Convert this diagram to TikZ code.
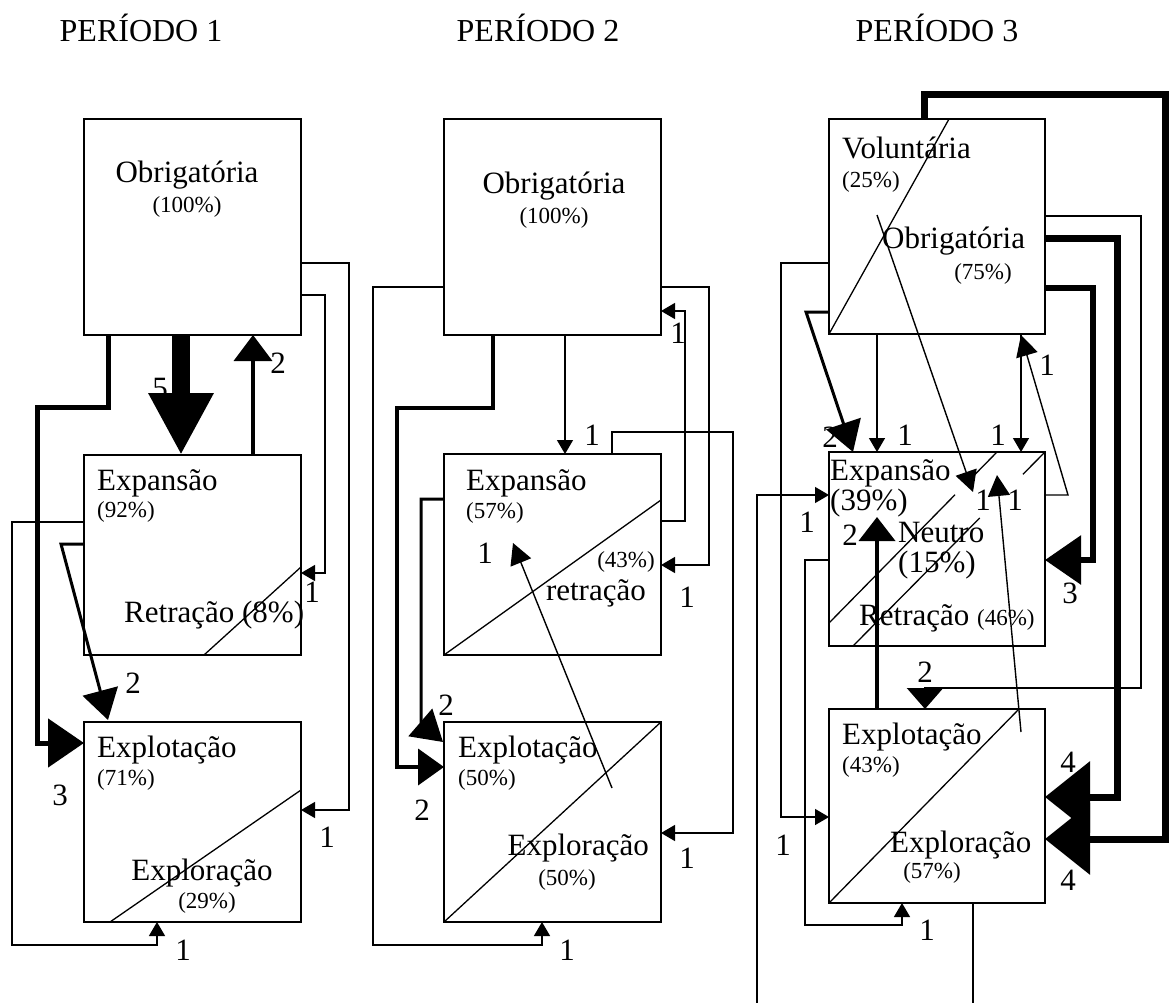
\documentclass[tikz,border=0pt]{standalone}
\usepackage{fontspec}
\setmainfont{Liberation Serif}
\usetikzlibrary{arrows.meta,calc}
\begin{document}
\begin{tikzpicture}[x=1pt,y=-1pt,
  box/.style={draw,line width=1.3pt,anchor=north west,inner sep=0,outer sep=0},
  big/.style={font=\fontsize{31}{34}\selectfont,inner sep=0},
  ttl/.style={font=\fontsize{32}{35}\selectfont,inner sep=0},
  sml/.style={font=\fontsize{23}{26}\selectfont,inner sep=0},
  cnt/.style={font=\fontsize{31}{34}\selectfont,inner sep=0},
  link/.style={line width=1.4pt},
  split/.style={line width=1.3pt},
  tipS/.style={-{Triangle[width=16pt,length=14pt]}},
  tipM/.style={-{Triangle[width=22pt,length=21pt]}},
  tipW/.style={-{Triangle[width=36pt,length=30pt]}},
  tipL/.style={-{Triangle[width=48pt,length=36pt]}},
  tipXL/.style={-{Triangle[width=70pt,length=45pt]}}
]
\useasboundingbox (0,0) rectangle (1172,1003);

% ---------- titles ----------
\node[ttl] (t1) at (141,28) {PERÍODO 1};
\node[ttl] (t2) at (538,28) {PERÍODO 2};
\node[ttl] (t3) at (937,28) {PERÍODO 3};

% ---------- boxes ----------
\node[box,minimum width=217pt,minimum height=216pt] (o1) at (84,119) {};
\node[box,minimum width=217pt,minimum height=200pt] (e1) at (84,455) {};
\node[box,minimum width=217pt,minimum height=200pt] (x1) at (84,722) {};

\node[box,minimum width=217pt,minimum height=216pt] (o2) at (444,119) {};
\node[box,minimum width=217pt,minimum height=201pt] (e2) at (444,454) {};
\node[box,minimum width=217pt,minimum height=200pt] (x2) at (444,722) {};

\node[box,minimum width=216pt,minimum height=215pt] (o3) at (829,119) {};
\node[box,minimum width=216pt,minimum height=194pt] (e3) at (829,452) {};
\node[box,minimum width=216pt,minimum height=194pt] (x3) at (829,709) {};

% ---------- dividing lines inside boxes ----------
\draw[split] ($(e1.south west)+(120,0)$) -- ($(e1.north east)+(0,112)$);
\draw[split] ($(x1.south west)+(26,0)$) -- ($(x1.north east)+(0,68)$);
\draw[split] (e2.south west) -- ($(e2.north east)+(0,46)$);
\draw[split] (x2.south west) -- (x2.north east);
\draw[split] (o3.south west) -- ($(o3.north west)+(120,0)$);
\coordinate (d1a) at ($(e3.south west)+(0,-23)$);
\coordinate (d1b) at ($(e3.north west)+(168,0)$);
\coordinate (d2a) at ($(e3.south west)+(24,0)$);
\coordinate (d2b) at (e3.north east);
\draw[split] (d1a) -- ($(d1a)!0.75!(d1b)$) ($(d1a)!0.87!(d1b)$) -- (d1b);
\draw[split] (d2a) -- ($(d2a)!0.66!(d2b)$) ($(d2a)!0.885!(d2b)$) -- (d2b);
\draw[split] (x3.south west) -- ($(x3.north west)+(190,0)$);

% ---------- box texts, period 1 ----------
\node[big] (o1t) at (187,175) {Obrigatória};
\node[sml] (o1p) at (187,207) {(100\%)};
\node[big,anchor=west] (e1t) at (97,483) {Expansão};
\node[sml,anchor=west] (e1p) at (97,512) {(92\%)};
\node[big,anchor=west] (e1r) at (124,615) {Retração (8\%)};
\node[big,anchor=west] (x1t) at (97,750) {Explotação};
\node[sml,anchor=west] (x1p) at (97,780) {(71\%)};
\node[big] (x1r) at (202,873) {Exploração};
\node[sml] (x1q) at (207,903) {(29\%)};

% ---------- box texts, period 2 ----------
\node[big] (o2t) at (554,186) {Obrigatória};
\node[sml] (o2p) at (554,218) {(100\%)};
\node[big,anchor=west] (e2t) at (466,483) {Expansão};
\node[sml,anchor=west] (e2p) at (466,513) {(57\%)};
\node[sml,anchor=east] (e2q) at (655,562) {(43\%)};
\node[big,anchor=east] (e2r) at (646,593) {retração};
\node[big,anchor=west] (x2t) at (458,750) {Explotação};
\node[sml,anchor=west] (x2p) at (458,780) {(50\%)};
\node[big,anchor=east] (x2r) at (649,848) {Exploração};
\node[sml] (x2q) at (567,880) {(50\%)};

% ---------- box texts, period 3 ----------
\node[big,anchor=west] (o3v) at (842,148) {Voluntária};
\node[sml,anchor=west] (o3p) at (842,182) {(25\%)};
\node[big,anchor=west] (o3t) at (882,241) {Obrigatória};
\node[sml] (o3q) at (983,274) {(75\%)};
\node[big,anchor=west] (e3t) at (830,473) {Expansão};
\node[big,anchor=west] (e3p) at (830,503) {(39\%)};
\node[big,anchor=west] (e3n) at (898,532) {Neutro};
\node[big,anchor=west] (e3q) at (898,565) {(15\%)};
\node[big,anchor=west] (e3r) at (859,618) {Retração {\fontsize{23}{26}\selectfont(46\%)}};
\node[big,anchor=west] (x3t) at (842,737) {Explotação};
\node[sml,anchor=west] (x3p) at (842,767) {(43\%)};
\node[big,anchor=west] (x3r) at (890,845) {Exploração};
\node[sml] (x3q) at (932,873) {(57\%)};

% ---------- connectors, period 1 ----------
\draw[line width=18pt,-{Triangle[width=61pt,length=62pt]}]
  ($(o1.south west)+(97,0)$) -- ($(e1.north west)+(97,0)$);
\draw[line width=4pt,-{Triangle[width=38pt,length=26pt]}]
  ($(e1.north west)+(169,0)$) -- ($(o1.south west)+(169,0)$);
\draw[line width=5pt,tipL]
  ($(o1.south west)+(24,0)$) |- ($(o1.south west)+(-47,72)$) |- ($(x1.north west)+(0,21)$);
\draw[link,tipS] ($(o1.north east)+(0,144)$) -- ++(48,0) |- ($(x1.north east)+(0,88)$);
\draw[link,tipS] ($(o1.north east)+(0,176)$) -- ++(24,0) |- ($(e1.north east)+(0,118)$);
\draw[link,tipS] ($(e1.north west)+(0,67)$) -- ++(-72,0)
  |- ($(x1.south west)+(73,23)$) -- ($(x1.south west)+(73,0)$);
\draw[line width=3pt,tipW] ($(e1.north west)+(0,89)$) -- ++(-23,0) -- ($(x1.north west)+(24,-2)$);

\node[cnt] (c1a) at (160,388) {5};
\node[cnt] (c1b) at (278,363) {2};
\node[cnt] (c1c) at (60,795) {3};
\node[cnt] (c1d) at (327,837) {1};
\node[cnt] (c1e) at (312,592) {1};
\node[cnt] (c1f) at (183,950) {1};
\node[cnt] (c1g) at (133,683) {2};

% ---------- connectors, period 2 ----------
\draw[link,tipS] ($(o2.north west)+(0,168)$) -- ++(-71,0)
  |- ($(x2.south west)+(98,23)$) -- ($(x2.south west)+(98,0)$);
\draw[line width=4pt,-{Triangle[width=36pt,length=26pt]}]
  ($(o2.south west)+(49,0)$) |- ($(o2.south west)+(-47,73)$) |- ($(x2.north west)+(0,45)$);
\draw[link,tipS] ($(o2.south west)+(121,0)$) -- ($(e2.north west)+(121,0)$);
\draw[link,tipS] ($(o2.north east)+(0,168)$) -- ++(48,0) |- ($(e2.north east)+(0,111)$);
\draw[link,tipS] ($(e2.north east)+(0,67)$) -- ++(24,0) |- ($(o2.north east)+(0,192)$);
\draw[link,tipS] ($(e2.north west)+(168,0)$) |- ($(e2.north west)+(289,-22)$) |- ($(x2.north east)+(0,111)$);
\draw[line width=3pt,tipW] ($(e2.north west)+(0,45)$) -- ++(-23,0) -- ($(x2.north west)+(-23,1)$) -- ($(x2.north west)+(-1,20)$);
\draw[link,tipM] ($(x2.north west)+(168,66)$) -- ($(e2.north west)+(69,89)$);

\node[cnt] (c2a) at (567,950) {1};
\node[cnt] (c2b) at (422,810) {2};
\node[cnt] (c2c) at (592,435) {1};
\node[cnt] (c2d) at (687,597) {1};
\node[cnt] (c2e) at (678,333) {1};
\node[cnt] (c2f) at (687,858) {1};
\node[cnt] (c2g) at (446,705) {2};
\node[cnt] (c2h) at (485,553) {1};

% ---------- connectors, period 3 ----------
\coordinate (b1) at (757,1003);
\coordinate (b2) at ($(x3.south west)+(144,100)$);

\draw[line width=7pt,tipXL] ($(o3.north west)+(95,0)$) |- ($(o3.north west)+(336,-24)$) |- ($(x3.north east)+(0,130)$);
\draw[line width=7pt,tipXL] ($(o3.north east)+(0,119)$) -- ++(72,0) |- ($(x3.north east)+(0,88)$);
\draw[line width=6pt,tipL] ($(o3.north east)+(0,169)$) -- ++(48,0) |- ($(e3.north east)+(0,108)$);
\draw[line width=2.5pt,-{Triangle[width=36pt,length=21pt]}]
  ($(o3.north east)+(0,97)$) -- ++(96,0) |- ($(x3.north west)+(96,-21)$) -- ($(x3.north west)+(96,0)$);
\draw[link,tipS] ($(o3.north west)+(0,144)$) -- ++(-48,0) |- ($(x3.north west)+(0,108)$);
\draw[line width=3pt,tipW] ($(o3.north west)+(0,193)$) -- ++(-23,0) -- ($(e3.north west)+(24,0)$);
\draw[link,tipS] ($(o3.south west)+(48,0)$) -- ($(e3.north west)+(48,0)$);
\draw[link,tipS] ($(o3.south west)+(192,0)$) -- ($(e3.north west)+(192,0)$);
\draw[link,tipM] ($(e3.north east)+(0,43)$) -- ++(23,0) -- ($(o3.south west)+(192,1)$);
\draw[link,tipM] ($(o3.north west)+(48,96)$) -- ($(e3.north west)+(144,40)$);
\draw[link,tipM] ($(x3.north west)+(192,23)$) -- ($(e3.north west)+(168,23)$);
\draw[line width=4pt,-{Triangle[width=36pt,length=24pt]}] ($(x3.north west)+(48,0)$) -- ($(e3.north west)+(48,65)$);
\draw[link,tipS] ($(e3.north west)+(0,108)$) -- ++(-24,0)
  |- ($(x3.south west)+(73,22)$) -- ($(x3.south west)+(73,0)$);
\draw[link,tipS] (b1) |- ($(e3.north west)+(0,43)$);
\draw[link] ($(x3.south west)+(144,0)$) -- (b2);

\node[cnt] (c3a) at (1068,880) {4};
\node[cnt] (c3b) at (1068,762) {4};
\node[cnt] (c3c) at (1070,593) {3};
\node[cnt] (c3d) at (925,672) {2};
\node[cnt] (c3e) at (783,845) {1};
\node[cnt] (c3f) at (830,437) {2};
\node[cnt] (c3g) at (905,435) {1};
\node[cnt] (c3h) at (998,435) {1};
\node[cnt] (c3i) at (1047,365) {1};
\node[cnt] (c3j) at (983,500) {1};
\node[cnt] (c3k) at (1015,500) {1};
\node[cnt] (c3l) at (850,535) {2};
\node[cnt] (c3m) at (927,930) {1};
\node[cnt] (c3n) at (807,522) {1};
\end{tikzpicture}
\end{document}
